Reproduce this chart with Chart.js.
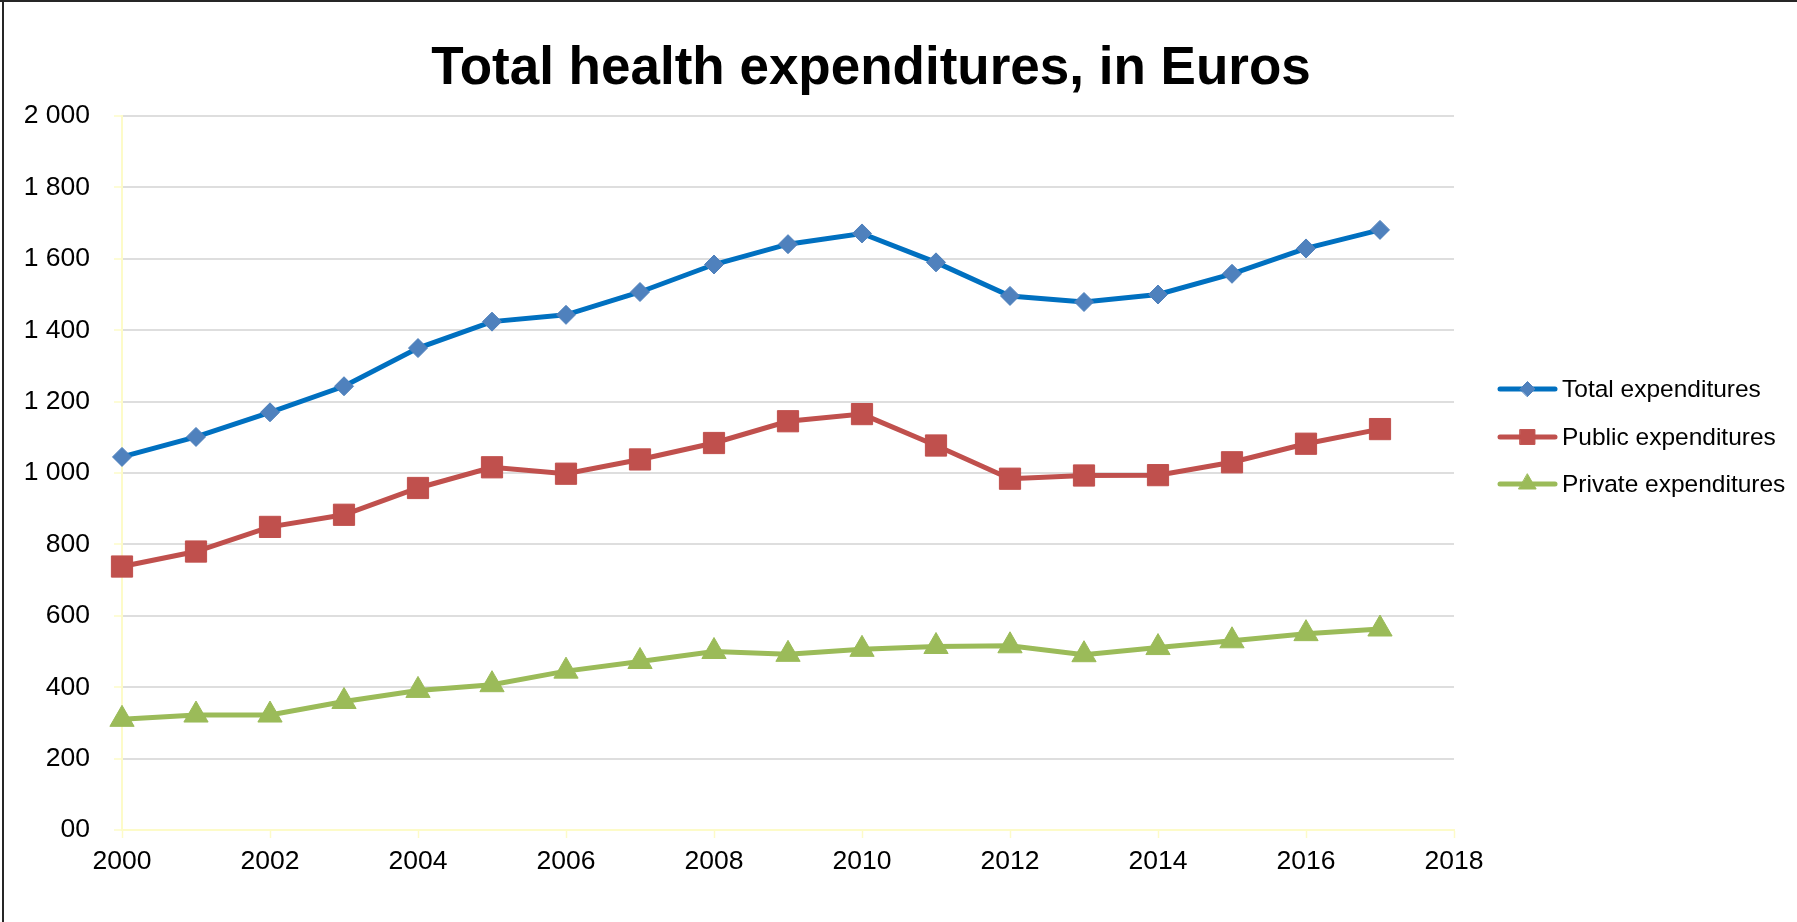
<!DOCTYPE html>
<html>
<head>
<meta charset="utf-8">
<script src="https://cdn.jsdelivr.net/npm/chart.js@4/dist/chart.umd.min.js"></script>
<style>
  html, body { margin: 0; padding: 0; background: #ffffff; }
  #wrap { position: relative; width: 1797px; height: 922px; }
  canvas { display: block; }
</style>
</head>
<body>
<div id="wrap"><canvas id="c" width="1797" height="922"></canvas></div>
<script>
const years = [2000, 2001, 2002, 2003, 2004, 2005, 2006, 2007, 2008, 2009, 2010, 2011, 2012, 2013, 2014, 2015, 2016, 2017];
const totalExp = [1045, 1101, 1170, 1243, 1350, 1424, 1443, 1507, 1584, 1641, 1671, 1590, 1496, 1479, 1500, 1558, 1629, 1681];
const publicExp = [738, 780, 849, 883, 958, 1016, 998, 1038, 1084, 1145, 1165, 1077, 984, 993, 994, 1030, 1082, 1123];
const privateExp = [310, 322, 322, 360, 391, 407, 445, 472, 500, 492, 506, 514, 516, 491, 511, 530, 550, 563];
const seriesNames = ['Total expenditures', 'Public expenditures', 'Private expenditures'];
const titleText = 'Total health expenditures, in Euros';
const xTickMin = 2000, xTickMax = 2018, xTickStep = 2;
const yTickMin = 0, yTickMax = 2000, yTickStep = 200;

const FONT = 'Arial, "Liberation Sans", sans-serif';
const AXIS_YELLOW = '#fdfbc8';
const GRID_GRAY = '#dedede';

function pts(vals) { return vals.map((v, i) => ({ x: years[i], y: v })); }
function fmtY(v) {
  if (v === 0) return '00';
  if (v >= 1000) return Math.floor(v / 1000) + ' ' + String(v % 1000).padStart(3, '0');
  return String(v);
}

const legendSizes = [7.5, 10.5, 10];

const frame = {
  id: 'frame',
  beforeDraw(chart) {
    const ctx = chart.ctx;
    ctx.save();
    ctx.fillStyle = '#ffffff';
    ctx.fillRect(0, 0, chart.width, chart.height);
    ctx.restore();
  },
  afterDraw(chart) {
    const ctx = chart.ctx;
    ctx.save();
    ctx.strokeStyle = '#262626';
    ctx.lineWidth = 2;
    ctx.beginPath();
    ctx.moveTo(3, 0); ctx.lineTo(3, chart.height);
    ctx.moveTo(0, 1); ctx.lineTo(chart.width, 1);
    ctx.stroke();
    // title
    ctx.fillStyle = '#000000';
    ctx.font = 'bold 53px ' + FONT;
    ctx.textAlign = 'center';
    ctx.textBaseline = 'middle';
    ctx.fillText(titleText, 871, 69);
    // custom legend: line + marker + label
    const x0 = 1500, lineLen = 55, textX = 1562;
    const rows = [389, 437, 484];
    chart.data.datasets.forEach((ds, i) => {
      const y = rows[i];
      ctx.strokeStyle = ds.borderColor;
      ctx.lineWidth = 5;
      ctx.lineCap = 'round';
      ctx.beginPath();
      ctx.moveTo(x0, y); ctx.lineTo(x0 + lineLen, y);
      ctx.stroke();
      ctx.fillStyle = ds.pointBackgroundColor;
      ctx.strokeStyle = ds.pointBorderColor;
      ctx.lineWidth = 1;
      Chart.helpers.drawPoint(ctx, { pointStyle: ds.pointStyle, radius: legendSizes[i], rotation: 0, borderWidth: 1 }, x0 + lineLen / 2, y);
      ctx.fillStyle = '#000000';
      ctx.font = '24.5px ' + FONT;
      ctx.textAlign = 'left';
      ctx.textBaseline = 'middle';
      ctx.fillText(ds.label, textX, y + 1);
    });
    ctx.restore();
  }
};

new Chart(document.getElementById('c'), {
  type: 'line',
  data: {
    datasets: [
      {
        label: seriesNames[0], data: pts(totalExp),
        borderColor: '#0070c0', borderWidth: 5,
        pointStyle: 'rectRot', pointRadius: 9.5, pointHoverRadius: 9.5,
        pointBackgroundColor: '#4f81bd', pointBorderColor: '#4f81bd', pointBorderWidth: 1,
        tension: 0, clip: false
      },
      {
        label: seriesNames[1], data: pts(publicExp),
        borderColor: '#c0504d', borderWidth: 5,
        pointStyle: 'rect', pointRadius: 15, pointHoverRadius: 15,
        pointBackgroundColor: '#c0504d', pointBorderColor: '#c0504d', pointBorderWidth: 1,
        tension: 0, clip: false
      },
      {
        label: seriesNames[2], data: pts(privateExp),
        borderColor: '#9bbb59', borderWidth: 5,
        pointStyle: 'triangle', pointRadius: 14, pointHoverRadius: 14,
        pointBackgroundColor: '#9bbb59', pointBorderColor: '#9bbb59', pointBorderWidth: 1,
        tension: 0, clip: false
      }
    ]
  },
  options: {
    responsive: false,
    animation: false,
    events: [],
    layout: { padding: { left: 0, right: 343, top: 116, bottom: 0 } },
    plugins: {
      legend: { display: false },
      tooltip: { enabled: false },
      title: { display: false }
    },
    scales: {
      x: {
        type: 'linear',
        min: xTickMin, max: xTickMax,
        afterFit(scale) { scale.height = 92; },
        ticks: {
          stepSize: xTickStep,
          autoSkip: false,
          maxRotation: 0,
          padding: 8,
          color: '#000000',
          font: { family: FONT, size: 26.5 },
          callback: (v) => String(v)
        },
        grid: {
          display: true, drawOnChartArea: false, drawTicks: true,
          tickLength: 8, tickColor: AXIS_YELLOW, tickWidth: 1.5
        },
        border: { display: true, color: AXIS_YELLOW, width: 2 }
      },
      y: {
        type: 'linear',
        min: yTickMin, max: yTickMax,
        afterFit(scale) { scale.width = 122; },
        ticks: {
          stepSize: yTickStep,
          padding: 24,
          color: '#000000',
          font: { family: FONT, size: 26.5 },
          callback: (v) => fmtY(v)
        },
        grid: {
          color: (c) => (c.tick && c.tick.value === 0) ? AXIS_YELLOW : GRID_GRAY,
          lineWidth: 2,
          drawTicks: true, tickLength: 8, tickColor: AXIS_YELLOW, tickWidth: 1.5
        },
        border: { display: true, color: AXIS_YELLOW, width: 2 }
      }
    }
  },
  plugins: [frame]
});
</script>
</body>
</html>
